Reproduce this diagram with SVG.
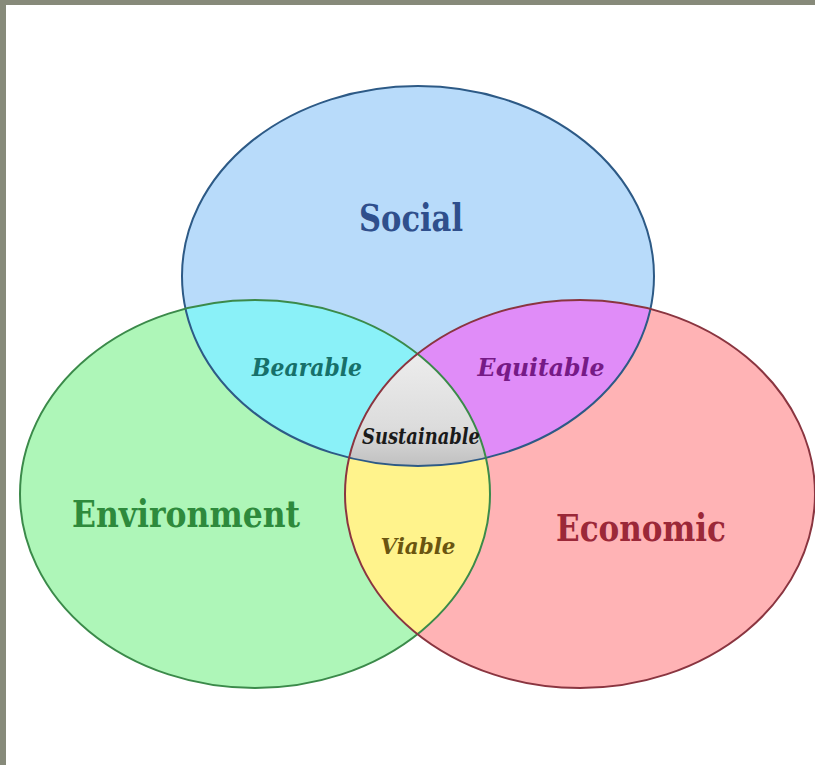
<svg xmlns="http://www.w3.org/2000/svg" width="815" height="765" viewBox="0 0 815 765">
<style>
.big{font-family:"DejaVu Serif","Liberation Serif",serif;font-weight:bold;font-stretch:condensed;text-anchor:middle}
.small{font-family:"DejaVu Serif","Liberation Serif",serif;font-weight:bold;font-style:italic;text-anchor:middle}
</style>
<defs>
<clipPath id="cS"><ellipse cx="418" cy="276" rx="236" ry="190"/></clipPath>
<clipPath id="cEn"><ellipse cx="255" cy="494" rx="235" ry="194"/></clipPath>
<clipPath id="cEc"><ellipse cx="580" cy="494" rx="235" ry="194"/></clipPath>
<linearGradient id="gray" x1="0" y1="0" x2="0" y2="1">
<stop offset="0" stop-color="#f2f2f2"/>
<stop offset="0.7" stop-color="#dcdcdc"/>
<stop offset="1" stop-color="#bdbdbd"/>
</linearGradient>
</defs>
<rect width="815" height="765" fill="#878a7a"/>
<rect x="6" y="5" width="809" height="760" fill="#ffffff"/>
<g id="fills">
<ellipse cx="418" cy="276" rx="236" ry="190" fill="#b8dbfa"/>
<ellipse cx="255" cy="494" rx="235" ry="194" fill="#aef6b8"/>
<ellipse cx="580" cy="494" rx="235" ry="194" fill="#ffb3b5"/>
<g clip-path="url(#cS)"><ellipse cx="255" cy="494" rx="235" ry="194" fill="#8af1f8"/></g>
<g clip-path="url(#cS)"><ellipse cx="580" cy="494" rx="235" ry="194" fill="#e08cf8"/></g>
<g clip-path="url(#cEn)"><ellipse cx="580" cy="494" rx="235" ry="194" fill="#fff38c"/></g>
<g clip-path="url(#cS)"><g clip-path="url(#cEn)"><rect x="340" y="330" width="160" height="140" fill="url(#gray)" clip-path="url(#cEc)"/></g></g>
</g>
<g id="social"><ellipse cx="418" cy="276" rx="236" ry="190" fill="none" stroke="#2d5a86" stroke-width="2"/>
<text class="big" x="411" y="231" font-size="38" fill="#2f4f8c" textLength="104" lengthAdjust="spacingAndGlyphs">Social</text></g>
<g id="environment"><ellipse cx="255" cy="494" rx="235" ry="194" fill="none" stroke="#3b8a4a" stroke-width="2"/>
<text class="big" x="186" y="527" font-size="38" fill="#2e8a3c" textLength="228" lengthAdjust="spacingAndGlyphs">Environment</text></g>
<g id="economic"><ellipse cx="580" cy="494" rx="235" ry="194" fill="none" stroke="#8a3540" stroke-width="2"/>
<text class="big" x="641" y="541" font-size="38" fill="#9b2838" textLength="170" lengthAdjust="spacingAndGlyphs">Economic</text></g>
<g id="bearable"><text class="small" x="307" y="376" font-size="24" fill="#17706a" textLength="110" lengthAdjust="spacingAndGlyphs">Bearable</text></g>
<g id="equitable"><text class="small" x="541" y="376" font-size="24" fill="#761a86" textLength="127" lengthAdjust="spacingAndGlyphs">Equitable</text></g>
<g id="sustainable"><text class="small" x="421" y="444" font-size="22" fill="#1a1a1a" textLength="118" lengthAdjust="spacingAndGlyphs">Sustainable</text></g>
<g id="viable"><text class="small" x="418" y="554" font-size="22" fill="#6a5510" textLength="75" lengthAdjust="spacingAndGlyphs">Viable</text></g>
</svg>
